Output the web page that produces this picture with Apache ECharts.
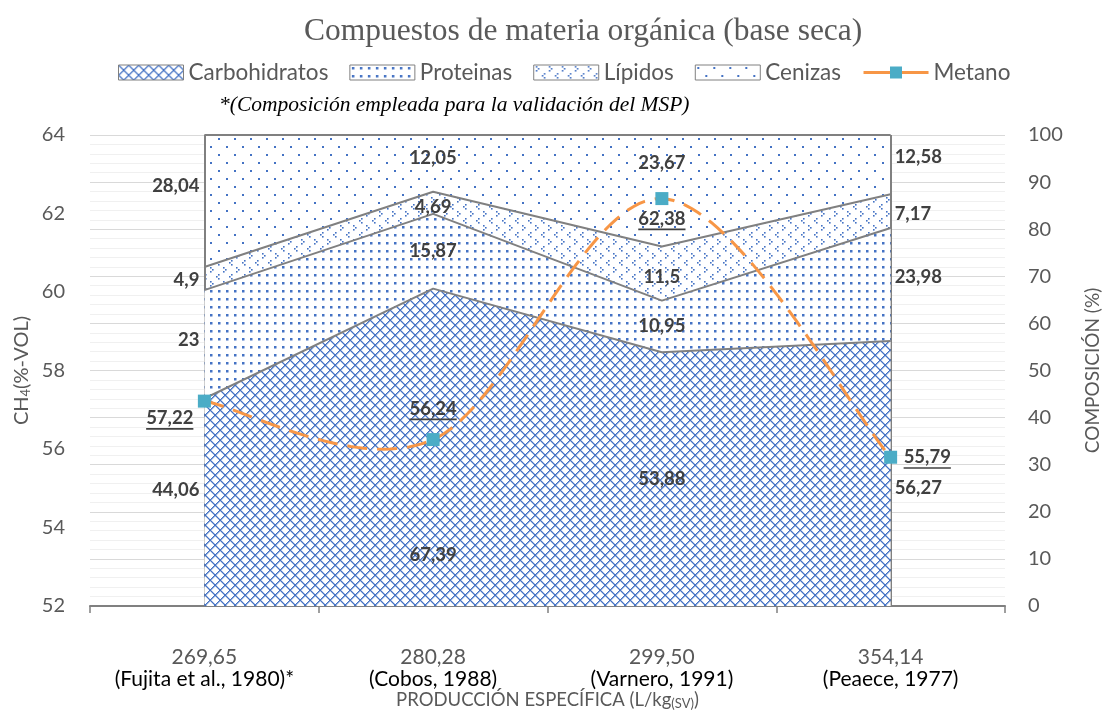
<!DOCTYPE html>
<html>
<head>
<meta charset="utf-8">
<script src="https://cdn.jsdelivr.net/npm/echarts@6/dist/echarts.min.js"></script>
<style>
html,body{margin:0;padding:0;background:#fff;width:1105px;height:711px;overflow:hidden;}
#chart{position:absolute;left:0;top:0;width:1105px;height:711px;overflow:hidden;}
</style>
</head>
<body>
<div id="chart"></div>
<script>
// ---------- DATA ----------
const categories = ['269,65', '280,28', '299,50', '354,14'];
const sources = ['(Fujita et al., 1980)*', '(Cobos, 1988)', '(Varnero, 1991)', '(Peaece, 1977)'];
const carbohidratos = [44.06, 67.39, 53.88, 56.27];
const proteinas = [23, 15.87, 10.95, 23.98];
const lipidos = [4.9, 4.69, 11.5, 7.17];
const cenizas = [28.04, 12.05, 23.67, 12.58];
const metano = [57.22, 56.24, 62.38, 55.79];
const seriesNames = ['Carbohidratos', 'Proteinas', 'Lípidos', 'Cenizas', 'Metano'];

// ---------- STYLE ----------
const FONT = 'Lato, "Open Sans", sans-serif';
const BLUE = '#4472C4';
const EDGE = '#808080';
const LABEL = '#404040';
const ORANGE = '#F79646';
// label pixel offsets (style only), relative to middle of each stacked segment
const compDy = [
  [-12, 108, 0, 15],   // carbohidratos
  [-4, 0, 0, -7],      // proteinas
  [1, 4, 3, 3],        // lipidos
  [-15, -5, -28, -8]   // cenizas
];
const metDx = [-11, 0, 0, 13];
const metDy = [17, -31, 20, 0];
const metAlign = ['right', 'center', 'center', 'left'];

function makePattern(w, h, draw) {
  const c = document.createElement('canvas');
  c.width = w; c.height = h;
  const g = c.getContext('2d');
  g.fillStyle = '#fff';
  g.fillRect(0, 0, w, h);
  g.fillStyle = BLUE;
  draw(g);
  return { image: c, repeat: 'repeat' };
}
const patCarb = makePattern(10, 10, function (g) {
  for (let i = 0; i < 10; i++) {
    g.fillRect(i, i, 1.4, 1.4);
    g.fillRect(9 - i, i, 1.4, 1.4);
  }
});
const patProt = makePattern(8, 8, function (g) {
  g.fillRect(2, 2, 2.5, 2.5);
});
const patLip = makePattern(13, 14, function (g) {
  g.fillRect(2, 1, 1.6, 1.6); g.fillRect(4, 3, 1.6, 1.6); g.fillRect(2, 5, 1.6, 1.6);
  g.fillRect(10, 8, 1.6, 1.6); g.fillRect(8, 10, 1.6, 1.6); g.fillRect(10, 12, 1.6, 1.6);
});
const patCen = makePattern(16, 16, function (g) {
  g.fillRect(2, 2, 2, 2);
  g.fillRect(10, 10, 2, 2);
});
const patterns = [patCarb, patProt, patLip, patCen];

function fmt(v) { return String(v).replace('.', ','); }

const measureCtx = document.createElement('canvas').getContext('2d');
function textWidth(t, font) { measureCtx.font = font; return measureCtx.measureText(t).width; }

const comp = [carbohidratos, proteinas, lipidos, cenizas];

// composition labels: middle of each stacked segment
const compLabelData = [];
const compLabelInfo = [];
for (let s = 0; s < comp.length; s++) {
  for (let i = 0; i < categories.length; i++) {
    let base = 0;
    for (let k = 0; k < s; k++) base += comp[k][i];
    compLabelData.push([i, base + comp[s][i] / 2]);
    compLabelInfo.push({ text: fmt(comp[s][i]), dy: compDy[s][i], cat: i });
  }
}
const metPointData = metano.map(function (v, i) { return [i, v]; });

const chart = echarts.init(document.getElementById('chart'), null, { renderer: 'canvas', width: 1105, height: 711 });

const areaSeries = comp.map(function (arr, s) {
  const o = {
    name: seriesNames[s],
    type: 'line',
    stack: 'comp',
    yAxisIndex: 1,
    data: arr,
    symbol: 'none',
    z: 6 - s,
    lineStyle: { color: EDGE, width: 2 },
    itemStyle: { color: EDGE },
    areaStyle: { color: patterns[s], opacity: 1 },
    emphasis: { disabled: true },
    silent: true
  };
  if (s === 0) {
    o.markLine = {
      silent: true,
      symbol: ['none', 'none'],
      label: { show: false },
      lineStyle: { color: EDGE, width: 2, type: 'solid' },
      data: [{ xAxis: categories[0] }, { xAxis: categories[categories.length - 1] }]
    };
  }
  return o;
});

const option = {
  animation: false,
  title: [{
    text: 'Compuestos de materia orgánica (base seca)',
    left: 299,
    top: 11,
    textStyle: { fontFamily: '"Liberation Serif", "Times New Roman", serif', fontSize: 31.5, fontWeight: 'normal', color: '#595959' }
  }, {
    text: '*(Composición empleada para la validación del MSP)',
    left: 214,
    top: 89,
    textStyle: { fontFamily: '"Liberation Serif", "Times New Roman", serif', fontSize: 21.5, fontStyle: 'italic', fontWeight: 'normal', color: '#000' }
  }],
  legend: {
    top: 56,
    left: 113,
    itemWidth: 65,
    itemHeight: 15,
    itemGap: 21,
    textStyle: { fontFamily: FONT, fontSize: 22.5, color: '#595959' },
    data: [
      { name: 'Carbohidratos', icon: 'rect', itemStyle: { color: patCarb, borderColor: EDGE, borderWidth: 1 } },
      { name: 'Proteinas', icon: 'rect', itemStyle: { color: patProt, borderColor: EDGE, borderWidth: 1 } },
      { name: 'Lípidos', icon: 'rect', itemStyle: { color: patLip, borderColor: EDGE, borderWidth: 1 } },
      { name: 'Cenizas', icon: 'rect', itemStyle: { color: patCen, borderColor: EDGE, borderWidth: 1 } },
      { name: 'Metano', lineStyle: { type: 'solid', width: 3, color: ORANGE, opacity: 1 } }
    ]
  },
  grid: { left: 90, right: 100, top: 135, bottom: 105, containLabel: false, outerBoundsMode: 'none' },
  xAxis: {
    type: 'category',
    data: categories,
    boundaryGap: true,
    axisLine: { show: true, lineStyle: { color: EDGE, width: 2 } },
    axisTick: { show: true, length: 7, interval: 0, lineStyle: { color: EDGE, width: 1.5 } },
    axisLabel: {
      interval: 0,
      margin: 40,
      formatter: function (v, i) { return '{v|' + v + '}\n{s|' + sources[i] + '}'; },
      rich: {
        v: { fontFamily: FONT, fontSize: 21, color: '#595959', lineHeight: 22 },
        s: { fontFamily: FONT, fontSize: 21, color: '#000', lineHeight: 22 }
      }
    },
    name: '{a|PRODUCCIÓN ESPECÍFICA (L/kg}{b|(SV)}{a|)}',
    nameLocation: 'middle',
    nameGap: 82,
    nameMoveOverlap: false,
    nameTextStyle: {
      rich: {
        a: { fontFamily: FONT, fontSize: 18.5, color: '#595959', lineHeight: 22, verticalAlign: 'bottom' },
        b: { fontFamily: FONT, fontSize: 13, color: '#595959', lineHeight: 14, verticalAlign: 'bottom' }
      }
    }
  },
  yAxis: [{
    type: 'value',
    position: 'left',
    min: 52, max: 64, interval: 2,
    splitLine: { show: false },
    axisLine: { show: false },
    axisTick: { show: false },
    axisLabel: { fontFamily: FONT, fontSize: 20, color: '#595959', margin: 25 },
    name: '{a|CH}{b|4}{a|(%-VOL)}',
    nameLocation: 'middle',
    nameRotate: 90,
    nameGap: 58,
    nameMoveOverlap: false,
    nameTextStyle: {
      rich: {
        a: { fontFamily: FONT, fontSize: 20, color: '#595959', lineHeight: 24, verticalAlign: 'bottom' },
        b: { fontFamily: FONT, fontSize: 13, color: '#595959', lineHeight: 14, verticalAlign: 'bottom' }
      }
    }
  }, {
    type: 'value',
    position: 'right',
    min: 0, max: 100, interval: 10,
    splitLine: { show: true, lineStyle: { color: '#d9d9d9', width: 1 } },
    minorTick: { show: false, splitNumber: 5 },
    minorSplitLine: { show: true, lineStyle: { color: '#f0f0f0', width: 1 } },
    axisLine: { show: false },
    axisTick: { show: false },
    axisLabel: { fontFamily: FONT, fontSize: 20, color: '#595959', margin: 23 },
    name: 'COMPOSICIÓN (%)',
    nameLocation: 'middle',
    nameRotate: 90,
    nameGap: 78,
    nameMoveOverlap: false,
    nameTextStyle: { fontFamily: FONT, fontSize: 19, color: '#595959' }
  }],
  series: areaSeries.concat([
    {
      // smoothed dashed curve (Catmull-Rom through the data points, via axis coordinates)
      type: 'custom',
      yAxisIndex: 0,
      z: 10,
      silent: true,
      data: metPointData,
      renderItem: function (params, api) {
        if (params.dataIndex !== 0) return null;
        const P = metano.map(function (v, j) { return api.coord([j, v]); });
        const pts = [];
        for (let i = 0; i < P.length - 1; i++) {
          const p0 = P[i], p3 = P[i + 1];
          const prev = P[i - 1] || P[i], next = P[i + 2] || P[i + 1];
          const c1 = [p0[0] + (p3[0] - prev[0]) / 6, p0[1] + (p3[1] - prev[1]) / 6];
          const c2 = [p3[0] - (next[0] - p0[0]) / 6, p3[1] - (next[1] - p0[1]) / 6];
          const N = 40;
          for (let k = (i === 0 ? 0 : 1); k <= N; k++) {
            const t = k / N, u = 1 - t;
            pts.push([
              u * u * u * p0[0] + 3 * u * u * t * c1[0] + 3 * u * t * t * c2[0] + t * t * t * p3[0],
              u * u * u * p0[1] + 3 * u * u * t * c1[1] + 3 * u * t * t * c2[1] + t * t * t * p3[1]
            ]);
          }
        }
        return {
          type: 'polyline',
          shape: { points: pts },
          style: { stroke: ORANGE, lineWidth: 3, lineDash: [20, 10], fill: null }
        };
      }
    },
    {
      name: 'Metano',
      type: 'line',
      yAxisIndex: 0,
      data: metano,
      z: 11,
      symbol: 'rect',
      symbolSize: 13,
      itemStyle: { color: '#4BACC6' },
      lineStyle: { color: ORANGE, width: 3, opacity: 0 },
      emphasis: { disabled: true },
      silent: true
    },
    {
      type: 'custom',
      yAxisIndex: 1,
      z: 20,
      silent: true,
      data: compLabelData,
      renderItem: function (params, api) {
        const info = compLabelInfo[params.dataIndex];
        const p = api.coord([api.value(0), api.value(1)]);
        let x = p[0], align = 'center';
        if (info.cat === 0) { x = p[0] - 5; align = 'right'; }
        else if (info.cat === categories.length - 1) { x = p[0] + 4; align = 'left'; }
        return {
          type: 'text',
          style: {
            x: x, y: p[1] + info.dy, text: info.text,
            align: align, verticalAlign: 'middle',
            fill: LABEL, font: 'bold 18.5px ' + FONT
          }
        };
      }
    },
    {
      type: 'custom',
      yAxisIndex: 0,
      z: 21,
      silent: true,
      data: metPointData,
      renderItem: function (params, api) {
        const i = params.dataIndex;
        const p = api.coord([api.value(0), api.value(1)]);
        const t = fmt(metano[i]);
        const font = 'bold 18.5px ' + FONT;
        const w = textWidth(t, font);
        const x = p[0] + metDx[i], y = p[1] + metDy[i];
        const al = metAlign[i];
        const x0 = al === 'right' ? x - w : (al === 'center' ? x - w / 2 : x);
        return {
          type: 'group',
          children: [{
            type: 'text',
            style: { x: x, y: y, text: t, align: al, verticalAlign: 'middle', fill: LABEL, font: font }
          }, {
            type: 'rect',
            shape: { x: x0, y: y + 10, width: w, height: 1.6 },
            style: { fill: LABEL }
          }]
        };
      }
    }
  ])
};
chart.setOption(option);
</script>
</body>
</html>
